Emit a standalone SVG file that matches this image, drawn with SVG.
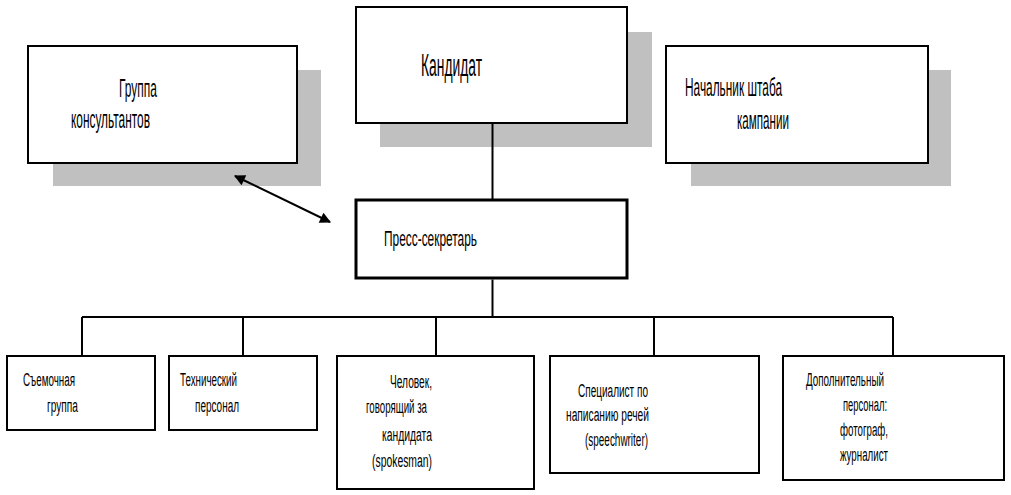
<svg xmlns="http://www.w3.org/2000/svg" width="1011" height="495" viewBox="0 0 1011 495">
<style>
.shadow{fill:#c0c0c0;stroke:none}
.box{fill:#fff;stroke:#000;stroke-width:2}
.thick{stroke-width:3}
.t{font-family:"Liberation Sans",Arial,sans-serif;fill:#000}
.big{font-size:26px}
.bot{font-size:18px}
.ln{stroke:#000;stroke-width:2;fill:none}
</style>
<defs>
<marker id="ah" viewBox="0 0 10 10" refX="9" refY="5" markerWidth="14" markerHeight="11" markerUnits="userSpaceOnUse" orient="auto-start-reverse">
<path d="M0,0 L10,5 L0,10 Z" fill="#000"/>
</marker>
</defs>
<rect width="1011" height="495" fill="#fff"/>
<g id="consultants">
<rect class="shadow" x="53" y="70" width="268" height="116"/>
<rect class="box" x="28" y="46" width="269" height="117"/>
<text class="t big" x="119" y="97" textLength="38" lengthAdjust="spacingAndGlyphs">Группа</text>
<text class="t big" x="71" y="128" textLength="79" lengthAdjust="spacingAndGlyphs">консультантов</text>
</g>
<g id="candidate">
<rect class="shadow" x="380" y="32" width="272" height="115"/>
<rect class="box" x="356" y="7" width="271" height="116"/>
<text class="t" x="421" y="76" font-size="31" textLength="61" lengthAdjust="spacingAndGlyphs">Кандидат</text>
</g>
<g id="chief">
<rect class="shadow" x="691" y="70" width="260" height="116"/>
<rect class="box" x="666" y="46" width="262" height="117"/>
<text class="t big" x="685" y="96" textLength="97" lengthAdjust="spacingAndGlyphs">Начальник штаба</text>
<text class="t big" x="737" y="129" textLength="52" lengthAdjust="spacingAndGlyphs">кампании</text>
</g>
<g id="press">
<rect class="box thick" x="356" y="200" width="271" height="78"/>
<text class="t" x="384" y="246" font-size="22" textLength="93" lengthAdjust="spacingAndGlyphs">Пресс-секретарь</text>
</g>
<g id="film">
<rect class="box" x="7" y="356" width="148" height="74"/>
<text class="t bot" x="23" y="386" textLength="52" lengthAdjust="spacingAndGlyphs">Съемочная</text>
<text class="t bot" x="47" y="412" textLength="31" lengthAdjust="spacingAndGlyphs">группа</text>
</g>
<g id="tech">
<rect class="box" x="169" y="356" width="148" height="74"/>
<text class="t bot" x="180" y="386" textLength="57" lengthAdjust="spacingAndGlyphs">Технический</text>
<text class="t bot" x="195" y="412" textLength="44" lengthAdjust="spacingAndGlyphs">персонал</text>
</g>
<g id="spokesman">
<rect class="box" x="337" y="356" width="197" height="133"/>
<text class="t bot" x="390" y="388" textLength="42" lengthAdjust="spacingAndGlyphs">Человек,</text>
<text class="t bot" x="366" y="413" textLength="61" lengthAdjust="spacingAndGlyphs">говорящий за</text>
<text class="t bot" x="382" y="441" textLength="50" lengthAdjust="spacingAndGlyphs">кандидата</text>
<text class="t bot" x="372" y="467" textLength="60" lengthAdjust="spacingAndGlyphs">(spokesman)</text>
</g>
<g id="speechwriter">
<rect class="box" x="550" y="356" width="209" height="117"/>
<text class="t bot" x="578" y="397" textLength="70" lengthAdjust="spacingAndGlyphs">Специалист по</text>
<text class="t bot" x="566" y="421" textLength="83" lengthAdjust="spacingAndGlyphs">написанию речей</text>
<text class="t bot" x="585" y="446" textLength="63" lengthAdjust="spacingAndGlyphs">(speechwriter)</text>
</g>
<g id="extra">
<rect class="box" x="783" y="356" width="221" height="124"/>
<text class="t bot" x="806" y="386" textLength="78" lengthAdjust="spacingAndGlyphs">Дополнительный</text>
<text class="t bot" x="843" y="411" textLength="44" lengthAdjust="spacingAndGlyphs">персонал:</text>
<text class="t bot" x="840" y="436" textLength="48" lengthAdjust="spacingAndGlyphs">фотограф,</text>
<text class="t bot" x="840" y="461" textLength="48" lengthAdjust="spacingAndGlyphs">журналист</text>
</g>
<g id="connectors">
<path class="ln" d="M492.5 124 V199"/>
<path class="ln" d="M492.5 279.5 V317" stroke-width="3"/>
<path class="ln" d="M82 317 H893"/>
<path class="ln" d="M82 317 V355 M243 317 V355 M436 317 V355 M654 317 V355 M893 317 V355"/>
<path class="ln" d="M235 176 L330 222" marker-start="url(#ah)" marker-end="url(#ah)"/>
</g>
</svg>
